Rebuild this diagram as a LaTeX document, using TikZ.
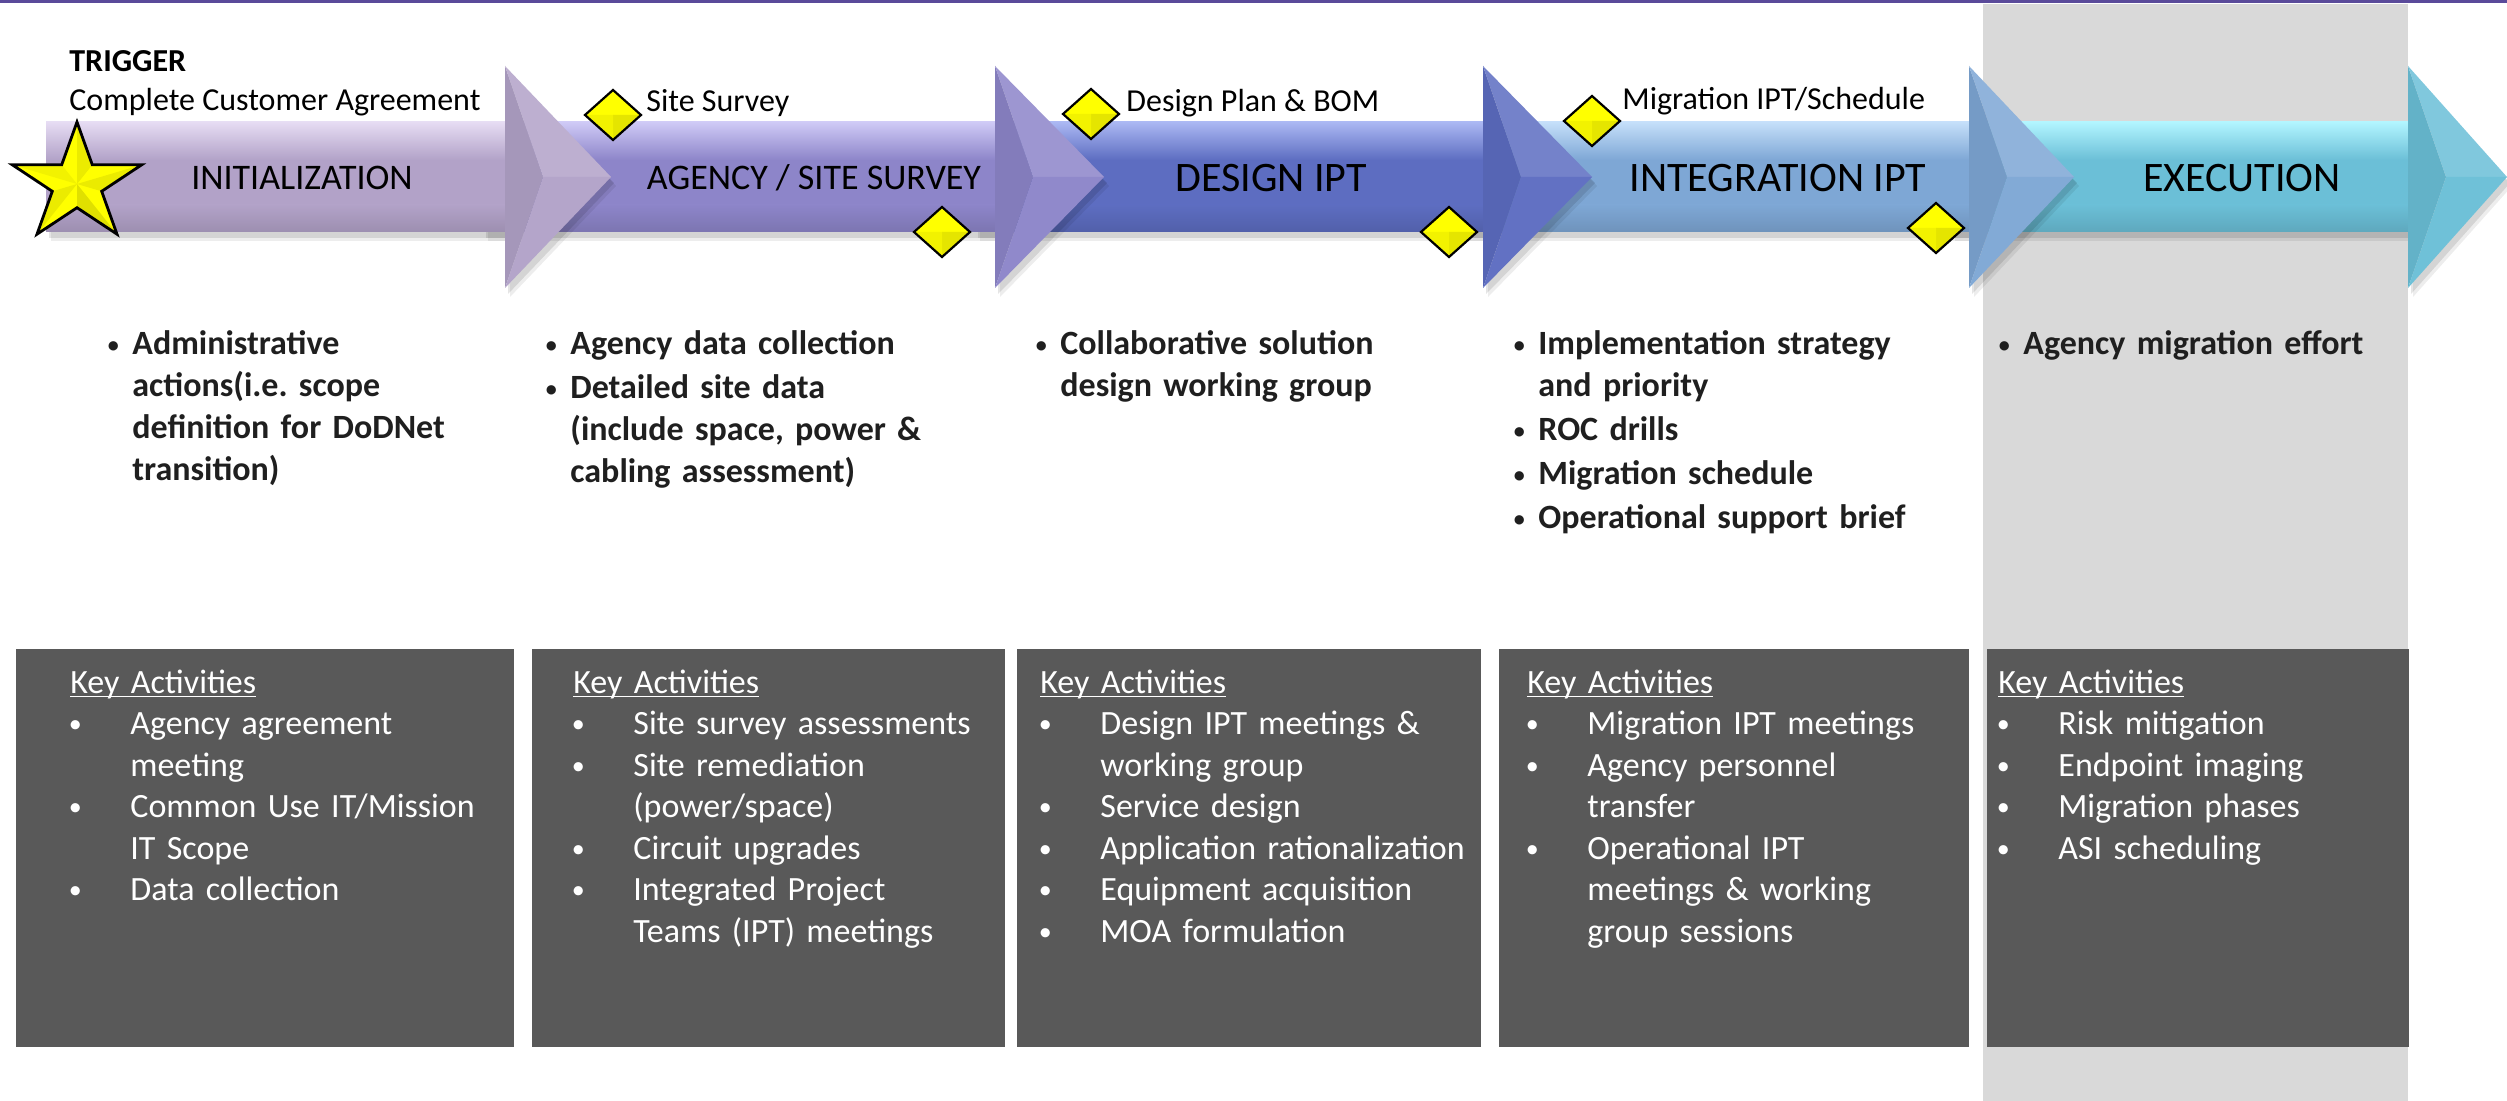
\documentclass[tikz,border=0pt]{standalone}
\usepackage{fontspec}
\setmainfont{Carlito}
\frenchspacing

% palette
\definecolor{topline}{HTML}{5A4A9A}
\definecolor{colgray}{HTML}{D9D9D9}
\definecolor{boxgray}{HTML}{595959}
\definecolor{msyellow}{HTML}{FFFF00}
\definecolor{aA}{HTML}{B2A2C8}\definecolor{hA}{HTML}{E6DCF3}
\definecolor{aB}{HTML}{8D85C9}\definecolor{hB}{HTML}{CFCAF6}
\definecolor{aC}{HTML}{5D6DC1}\definecolor{hC}{HTML}{ABB8F3}
\definecolor{aD}{HTML}{7EA7D5}\definecolor{hD}{HTML}{C5DFFA}
\definecolor{aE}{HTML}{6BBFD7}\definecolor{hE}{HTML}{B2F5FF}

% one chevron-headed phase arrow: band start, head base, tip, colour, highlight
\newcommand{\phasearrow}[5]{%
  \fill[black,opacity=0.10] (#1+3,128) -- (#2+3,128) -- (#2+3,72) -- (#3+3,183) -- (#2+3,294) -- (#2+3,238) -- (#1+3,238) -- cycle;
  \fill[black,opacity=0.07] (#1+5,131) -- (#2+5,131) -- (#2+5,75) -- (#3+5,186) -- (#2+5,297) -- (#2+5,241) -- (#1+5,241) -- cycle;
  \fill[#4] (#1,122) rectangle (#2,232);
  \shade[top color=#5, bottom color=#4] (#1,122) rectangle (#2,160);
  \shade[top color=#4, bottom color=#4!88!black] (#1,205) rectangle (#2,232);
  \fill[#4!93!black] (#2,66) -- (#2+38,177) -- (#2,288) -- cycle;
  \fill[#4!86!white] (#2,66) -- (#3,177) -- (#2+38,177) -- cycle;
  \fill[#4!97!white] (#2,288) -- (#3,177) -- (#2+38,177) -- cycle;
}

% bevelled yellow milestone diamond centred at (x,y)
\newcommand{\milestone}[2]{%
  \fill[msyellow] (#1,#2-25) -- (#1+28,#2) -- (#1,#2+25) -- (#1-28,#2) -- cycle;
  \fill[msyellow!90!black] (#1,#2) -- (#1+28,#2) -- (#1,#2+25) -- cycle;
  \fill[msyellow!95!black] (#1,#2) -- (#1,#2+25) -- (#1-28,#2) -- cycle;
  \draw[line width=1.1pt] (#1,#2-25) -- (#1+28,#2) -- (#1,#2+25) -- (#1-28,#2) -- cycle;
}

% list helpers
\newcommand{\smallbullet}[1]{\raisebox{#1}{\fontsize{11}{11}\selectfont•}}
\newcommand{\bitem}{\leavevmode\llap{\makebox[19pt][c]{\smallbullet{1.3pt}}}}
\newcommand{\kitem}{\leavevmode\hspace*{2.5pt}\makebox[0pt][c]{\raisebox{0.8pt}{\fontsize{13}{13}\selectfont•}}\hspace*{27.5pt}}
\newcommand{\kcont}{\leavevmode\hspace*{30pt}}
\newcommand{\kaul}[1]{\leavevmode\setbox0\hbox{#1}\rlap{\rule[-2.2pt]{\wd0}{0.9pt}}\box0}

\begin{document}
\begin{tikzpicture}[x=0.5pt,y=-0.5pt,
  phase/.style={font=\fontsize{18}{20}\selectfont, anchor=base, inner sep=0pt},
  phasebig/.style={font=\fontsize{21}{24}\selectfont, anchor=base, inner sep=0pt},
  toplabel/.style={font=\fontsize{16}{19}\selectfont, anchor=base west, inner sep=0pt},
  outcome/.style={font=\fontsize{17}{21}\selectfont\bfseries, anchor=base west,
    inner sep=0pt, text width=230pt, align=left, text=black!88},
  acttext/.style={font=\fontsize{17}{20.75}\selectfont, anchor=base west,
    inner sep=0pt, text width=260pt, align=left, text=white},
]
\useasboundingbox (0,0) rectangle (2507,1101);
\fill[white] (0,0) rectangle (2507,1101);

% header rule and highlighted execution column
\fill[topline] (0,0) rectangle (2507,3);
\fill[colgray] (1983,4) rectangle (2408,1101);

% phase arrows, right to left so each head overlaps the next band
\phasearrow{1950}{2408}{2507}{aE}{hE}
\phasearrow{1460}{1969}{2074}{aD}{hD}
\phasearrow{975}{1483}{1592}{aC}{hC}
\phasearrow{483}{995}{1104}{aB}{hB}
\phasearrow{46}{505}{611}{aA}{hA}

% phase names
\node[phase] (pinit) at (302,190) {INITIALIZATION};
\node[phase] (pagency) at (814,190) {AGENCY / SITE SURVEY};
\node[phasebig] (pdesign) at (1271,192) {DESIGN IPT};
\node[phasebig] (pinteg) at (1778,192) {INTEGRATION IPT};
\node[phasebig] (pexec) at (2242,192) {EXECUTION};

% trigger star
\coordinate (sc) at (77,184);
\fill[msyellow] (77,122) -- (92.3,164.8) -- (141.7,164.8) -- (101.7,191.3) -- (117,234.2)
  -- (77,207.7) -- (37,234.2) -- (52.3,191.3) -- (12.3,164.8) -- (61.7,164.8) -- cycle;
\fill[msyellow!92!black] (sc) -- (77,122) -- (92.3,164.8) -- cycle;
\fill[msyellow!92!black] (sc) -- (141.7,164.8) -- (101.7,191.3) -- cycle;
\fill[msyellow!88!black] (sc) -- (117,234.2) -- (77,207.7) -- cycle;
\fill[msyellow!92!black] (sc) -- (37,234.2) -- (52.3,191.3) -- cycle;
\fill[msyellow!95!black] (sc) -- (12.3,164.8) -- (61.7,164.8) -- cycle;
\draw[line width=1.4pt, line join=miter] (77,122) -- (92.3,164.8) -- (141.7,164.8) -- (101.7,191.3) -- (117,234.2)
  -- (77,207.7) -- (37,234.2) -- (52.3,191.3) -- (12.3,164.8) -- (61.7,164.8) -- cycle;

% milestones
\milestone{613}{115}
\milestone{1091}{114}
\milestone{1592}{121}
\milestone{942}{232}
\milestone{1449}{232}
\milestone{1936}{228}

% labels above the arrows
\node[toplabel, font=\fontsize{16}{19}\selectfont\bfseries] (trig) at (69,72) {TRIGGER};
\node[toplabel] (agree) at (69,111) {Complete Customer Agreement};
\node[toplabel] (msurvey) at (646,112) {Site Survey};
\node[toplabel] (mdesign) at (1126,112) {Design Plan \& BOM};
\node[toplabel] (mmigr) at (1622,110) {Migration IPT/Schedule};

% phase outcomes
\node[outcome] (o1) at (132,355) {\bitem Administrative\\ actions(i.e. scope\\ definition for DoDNet\\ transition)};
\node[outcome] (o2) at (570,355) {\bitem Agency data collection\\[1pt] \bitem Detailed site data\\ (include space, power \&\\ cabling assessment)};
\node[outcome] (o3) at (1060,355) {\bitem Collaborative solution\\ design working group};
\node[outcome] (o4) at (1538,355) {\bitem Implementation strategy\\ and priority\\[1pt] \bitem ROC drills\\[1pt] \bitem Migration schedule\\[1pt] \bitem Operational support brief};
\node[outcome] (o5) at (2023,355) {\bitem Agency migration effort};

% key activity panels
\fill[boxgray] (16,649) rectangle (514,1047);
\fill[boxgray] (532,649) rectangle (1005,1047);
\fill[boxgray] (1017,649) rectangle (1481,1047);
\fill[boxgray] (1499,649) rectangle (1969,1047);
\fill[boxgray] (1987,649) rectangle (2409,1047);

\node[acttext] (k1) at (70,693) {\kaul{Key Activities}\\
  \kitem Agency agreement\\ \kcont meeting\\ \kitem Common Use IT/Mission\\ \kcont IT Scope\\ \kitem Data collection};
\node[acttext] (k2) at (573,693) {\kaul{Key Activities}\\
  \kitem Site survey assessments\\ \kitem Site remediation\\ \kcont (power/space)\\ \kitem Circuit upgrades\\ \kitem Integrated Project\\ \kcont Teams (IPT) meetings};
\node[acttext] (k3) at (1040,693) {\kaul{Key Activities}\\
  \kitem Design IPT meetings \&\\ \kcont working group\\ \kitem Service design\\ \kitem Application rationalization\\ \kitem Equipment acquisition\\ \kitem MOA formulation};
\node[acttext] (k4) at (1527,693) {\kaul{Key Activities}\\
  \kitem Migration IPT meetings\\ \kitem Agency personnel\\ \kcont transfer\\ \kitem Operational IPT\\ \kcont meetings \& working\\ \kcont group sessions};
\node[acttext] (k5) at (1998,693) {\kaul{Key Activities}\\
  \kitem Risk mitigation\\ \kitem Endpoint imaging\\ \kitem Migration phases\\ \kitem ASI scheduling};
\end{tikzpicture}
\end{document}
